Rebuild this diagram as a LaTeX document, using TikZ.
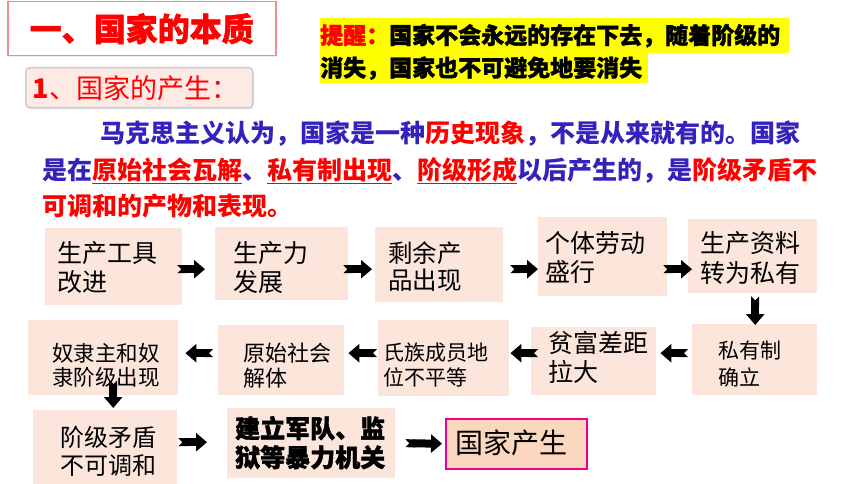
\documentclass[tikz,border=0pt]{standalone}
\usepackage{fontspec}
\setmainfont{Noto Sans CJK SC}
\usetikzlibrary{arrows.meta,shadows}
\definecolor{boxfill}{HTML}{FCE5DB}
\definecolor{statefill}{HTML}{FAD7BE}
\definecolor{subfill}{HTML}{FDEAE4}
\definecolor{titlered}{HTML}{F08C8C}
\definecolor{parablue}{HTML}{3322BB}
\definecolor{hiyellow}{HTML}{FFFF00}
\newcommand\fs[2]{\fontsize{#1pt}{#2pt}\selectfont}
\newcommand\rul[1]{\textcolor{red}{\underline{#1}}}
\newcommand\heavy{\bfseries\addfontfeatures{FakeBold=1.5}}
\begin{document}
\begin{tikzpicture}[x=1pt,y=-1pt,
  box/.style={fill=boxfill, anchor=north west, inner sep=0pt},
  txt/.style={anchor=west, align=left, inner sep=0pt, text=black},
  para/.style={anchor=west, inner sep=0pt, text=parablue, font=\bfseries\fs{25}{30}},
  hil/.style={fill=hiyellow, anchor=north west, inner sep=0pt, font=\fs{23}{26}\heavy},
  barrow/.style={line width=8pt, {Triangle Cap[reversed]}-{Triangle[width=18pt,length=11pt]}}
]
\useasboundingbox (0,0) rectangle (860,484);
\fill[white] (0,0) rectangle (860,484);

% headings
\node[draw=titlered, line width=1.5pt, fill=white, anchor=north west,
      minimum width=268pt, minimum height=54pt, inner sep=0pt,
      drop shadow={opacity=0.15,shadow xshift=1pt,shadow yshift=-1pt},
      text=red, font=\fs{32}{36}\heavy] (title) at (7,1) {一、国家的本质};
\node[rounded corners=4pt, draw=gray!40, line width=1.5pt, fill=subfill, anchor=north west,
      minimum width=227pt, minimum height=40pt, inner sep=0pt,
      drop shadow={opacity=0.2,shadow xshift=1pt,shadow yshift=-1.5pt},
      text=red, font=\fs{27}{30}] (sub) at (25,67)
      {\makebox[227pt][l]{\hspace*{7pt}\textbf{1}、国家的产生：}};

% reminder
\node[hil, minimum height=35pt] (rem1) at (320,18)
  {\makebox[469pt][l]{\textcolor{red}{提醒：}国家不会永远的存在下去，随着阶级的}};
\node[hil, minimum height=30pt] (rem2) at (320,53)
  {\makebox[328pt][l]{消失，国家也不可避免地要消失}};

% paragraph
\node[para] (p1) at (100,134) {马克思主义认为，国家是一种\textcolor{red}{历史现象}，不是从来就有的。国家};
\node[para] (p2) at (42,171) {是在\rul{原始社会瓦解}、\rul{私有制出现}、\rul{阶级形成}以后产生的，是\textcolor{red}{阶级矛盾不}};
\node[para] (p3) at (42,206) {\textcolor{red}{可调和的产物和表现。}};

% row 1
\node[box, minimum width=137pt, minimum height=77pt] (b1) at (45,228) {};
\node[txt, font=\fs{25}{29}] (t1) at ([shift={(12,1)}]b1.west) {生产工具\\改进};
\node[box, minimum width=133pt, minimum height=73pt] (b2) at (215,227) {};
\node[txt, font=\fs{25}{29}] (t2) at ([shift={(18,4)}]b2.west) {生产力\\发展};
\node[box, minimum width=128pt, minimum height=75pt] (b3) at (375,227) {};
\node[txt, font=\fs{24.5}{27}] (t3) at ([shift={(13,2)}]b3.west) {剩余产\\品出现};
\node[box, minimum width=129pt, minimum height=79pt] (b4) at (538,217) {};
\node[txt, font=\fs{25}{29}] (t4) at ([shift={(7,1)}]b4.west) {个体劳动\\盛行};
\node[box, minimum width=129pt, minimum height=74pt] (b5) at (688,219) {};
\node[txt, font=\fs{25}{30}] (t5) at ([shift={(12,2)}]b5.west) {生产资料\\转为私有};

% row 2
\node[box, minimum width=125pt, minimum height=71pt] (b6) at (692,324) {};
\node[txt, font=\fs{21}{27}] (t6) at ([shift={(26,4)}]b6.west) {私有制\\确立};
\node[box, minimum width=125pt, minimum height=68pt] (b7) at (531,327) {};
\node[txt, font=\fs{25}{29}] (t7) at ([shift={(17,-3.5)}]b7.west) {贫富差距\\拉大};
\node[box, minimum width=131pt, minimum height=76pt] (b8) at (378,320) {};
\node[txt, font=\fs{21}{25}] (t8) at ([shift={(5,7)}]b8.west) {氏族成员地\\位不平等};
\node[box, minimum width=126pt, minimum height=70pt] (b9) at (218,325) {};
\node[txt, font=\fs{22}{25}] (t9) at ([shift={(25,5.5)}]b9.west) {原始社会\\解体};
\node[box, minimum width=150pt, minimum height=75pt] (b10) at (28,320) {};
\node[txt, font=\fs{21.5}{24}] (t10) at ([shift={(24,7.5)}]b10.west) {奴隶主和奴\\隶阶级出现};

% row 3
\node[box, minimum width=144pt, minimum height=74pt] (b11) at (33,410) {};
\node[txt, font=\fs{24}{28}] (t11) at ([shift={(27,4)}]b11.west) {阶级矛盾\\不可调和};
\node[box, minimum width=168pt, minimum height=70pt] (b12) at (227,408) {};
\node[txt, font=\fs{25}{29}\heavy] (t12) at ([shift={(8,-0.5)}]b12.west) {建立军队、监\\狱等暴力机关};
\node[fill=statefill, draw=magenta, line width=1.5pt, anchor=north west, inner sep=0pt,
      minimum width=141pt, minimum height=50pt] (b13) at (445,418) {};
\node[txt, font=\fs{28}{32}] (t13) at ([shift={(10,-1)}]b13.west) {国家产生};

% connectors
\draw[barrow] ([shift={(-5,2.5)}]b1.east) -- ([shift={(-10,5.5)}]b2.west);
\draw[barrow] ([shift={(-5,5.5)}]b2.east) -- ([shift={(-3,4.5)}]b3.west);
\draw[barrow] ([shift={(7,4.5)}]b3.east) -- ([shift={(0,12.5)}]b4.west);
\draw[barrow] ([shift={(-4,12.5)}]b4.east) -- ([shift={(4,13)}]b5.west);
\draw[barrow] ([shift={(2.5,3)}]b5.south) -- ([shift={(0.5,1)}]b6.north);
\draw[barrow] ([shift={(-4,-6.5)}]b6.west) -- ([shift={(4,-8)}]b7.east);
\draw[barrow] ([shift={(7,-8)}]b7.west) -- ([shift={(1,-5)}]b8.east);
\draw[barrow] ([shift={(-1,-5)}]b8.west) -- ([shift={(4,-7)}]b9.east);
\draw[barrow] ([shift={(-5,-7)}]b9.west) -- ([shift={(7,-4.5)}]b10.east);
\draw[barrow] ([shift={(10,-15)}]b10.south) -- ([shift={(8,-2)}]b11.north);
\draw[barrow] ([shift={(1,-5)}]b11.east) -- ([shift={(-20,-1)}]b12.west);
\draw[barrow] ([shift={(10,0)}]b12.east) -- ([shift={(-3,0)}]b13.west);
\end{tikzpicture}
\end{document}
